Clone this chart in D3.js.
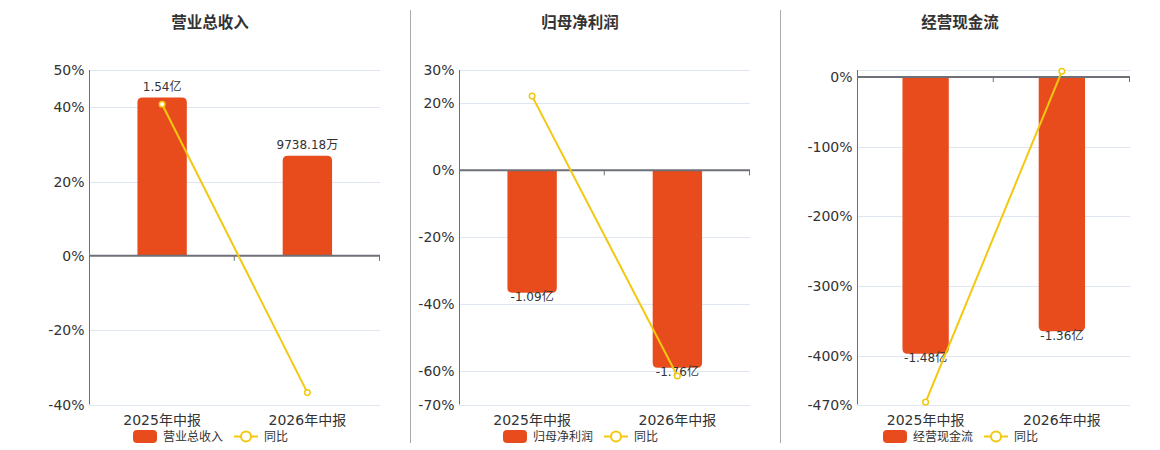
<!DOCTYPE html>
<html><head><meta charset="utf-8">
<script src="https://cdn.jsdelivr.net/npm/d3@7/dist/d3.min.js"></script>
<style>
html,body{margin:0;padding:0;background:#fff;}
svg{display:block;font-family:"DejaVu Sans","Noto Sans CJK SC",sans-serif;}
</style></head>
<body>
<svg id="chart" width="1160" height="450"></svg>
<script>
// ---- data ----
const categories = ["2025年中报", "2026年中报"];
const titles = ["营业总收入", "归母净利润", "经营现金流"];
const seriesNames = ["营业总收入", "归母净利润", "经营现金流"];
const yoyName = "同比";
// bar values in 亿
const revenueValues = [1.54, 0.973818];
const profitValues = [-1.09, -1.76];
const cashValues = [-1.48, -1.36];
const revenueLabels = ["1.54亿", "9738.18万"];
const profitLabels = ["-1.09亿", "-1.76亿"];
const cashLabels = ["-1.48亿", "-1.36亿"];
// yoy %
const revenueYoy = [40.8, -36.8];
const profitYoy = [22.2, -61.5];
const cashYoy = [-466.6, 8.1];
// axis ticks (%)
const revenueTicks = [-40, -20, 0, 20, 40, 50];
const profitTicks = [-70, -60, -40, -20, 0, 20, 30];
const cashTicks = [-470, -400, -300, -200, -100, 0];
// axis domains
const revenuePctDomain = [-40, 50];
const profitPctDomain = [-70, 30];
const cashPctDomain = [-470, 10];
const revenueBarDomain = [-1.447, 1.808];
const profitBarDomain = [-2.087, 0.894];
const cashBarDomain = [-1.752, 0.0373];

// ---- layout ----
const panels = [
  {title: titles[0], name: seriesNames[0], values: revenueValues, labels: revenueLabels, yoy: revenueYoy, ticks: revenueTicks, pct: revenuePctDomain, bar: revenueBarDomain,
   x0: 89.5, x1: 380, cx: 210},
  {title: titles[1], name: seriesNames[1], values: profitValues, labels: profitLabels, yoy: profitYoy, ticks: profitTicks, pct: profitPctDomain, bar: profitBarDomain,
   x0: 459.5, x1: 750, cx: 580},
  {title: titles[2], name: seriesNames[2], values: cashValues, labels: cashLabels, yoy: cashYoy, ticks: cashTicks, pct: cashPctDomain, bar: cashBarDomain,
   x0: 857.5, x1: 1130, cx: 960}
];
const plotTop = 70, plotBottom = 404.5;
const barColor = "#e84c1d", lineColor = "#f2c811", axisColor = "#6e7079", gridColor = "#e0e6f1", textColor = "#333";

const svg = d3.select("#chart");

// separators
[410.5, 780.5].forEach(x => {
  svg.append("line").attr("x1", x).attr("x2", x).attr("y1", 10).attr("y2", 443)
    .attr("stroke", "#aaa").attr("stroke-width", 1);
});

function barPath(x, w, y0, y1, r) {
  const h = Math.abs(y1 - y0);
  r = Math.min(r, h, w / 2);
  if (y1 < y0) {
    return `M${x},${y0}V${y1 + r}Q${x},${y1} ${x + r},${y1}H${x + w - r}Q${x + w},${y1} ${x + w},${y1 + r}V${y0}Z`;
  } else {
    return `M${x},${y0}V${y1 - r}Q${x},${y1} ${x + r},${y1}H${x + w - r}Q${x + w},${y1} ${x + w},${y1 - r}V${y0}Z`;
  }
}

panels.forEach(p => {
  const g = svg.append("g");
  const xs = d3.scaleBand().domain(categories).range([p.x0, p.x1]).padding(0);
  const yPct = d3.scaleLinear().domain(p.pct).range([plotBottom, plotTop]);
  const yBar = d3.scaleLinear().domain(p.bar).range([plotBottom, plotTop]);
  const zero = yPct(0);

  g.append("text").attr("x", p.cx).attr("y", 23).attr("text-anchor", "middle").attr("dominant-baseline", "central")
    .attr("font-size", 15.5).attr("font-weight", "bold").attr("fill", "#333").text(p.title);

  const gridVals = Array.from(new Set(p.ticks.concat(p.pct)));
  g.selectAll(".grid").data(gridVals.filter(v => v !== 0)).enter().append("line")
    .attr("x1", p.x0).attr("x2", p.x1).attr("y1", d => Math.round(yPct(d)) + 0.5).attr("y2", d => Math.round(yPct(d)) + 0.5)
    .attr("stroke", gridColor).attr("stroke-width", 1);

  g.append("line").attr("x1", p.x0).attr("x2", p.x0).attr("y1", plotTop).attr("y2", plotBottom)
    .attr("stroke", axisColor).attr("stroke-width", 1);

  g.selectAll(".yl").data(p.ticks).enter().append("text")
    .attr("x", p.x0 - 5).attr("y", d => yPct(d)).attr("text-anchor", "end").attr("dominant-baseline", "central")
    .attr("font-size", 14).attr("fill", textColor).text(d => d + "%");

  const bw = xs.bandwidth() * 0.34;
  g.selectAll(".bar").data(p.values).enter().append("path")
    .attr("d", (d, i) => barPath(xs(categories[i]) + xs.bandwidth() / 2 - bw / 2, bw, yBar(0), yBar(d), 5))
    .attr("fill", barColor);

  g.append("line").attr("x1", p.x0).attr("x2", p.x1).attr("y1", zero).attr("y2", zero)
    .attr("stroke", axisColor).attr("stroke-width", 2);
  const bounds = categories.map(c => xs(c)).concat([p.x1]).slice(1);
  g.selectAll(".xt").data(bounds).enter().append("line")
    .attr("x1", d => d - 0.5).attr("x2", d => d - 0.5).attr("y1", zero).attr("y2", zero + 5)
    .attr("stroke", axisColor).attr("stroke-width", 1);

  g.selectAll(".xl").data(categories).enter().append("text")
    .attr("x", d => xs(d) + xs.bandwidth() / 2).attr("y", 420).attr("text-anchor", "middle").attr("dominant-baseline", "central")
    .attr("font-size", 14).attr("fill", textColor).text(d => d);

  g.selectAll(".bl").data(p.values).enter().append("text")
    .attr("x", (d, i) => xs(categories[i]) + xs.bandwidth() / 2)
    .attr("y", d => d >= 0 ? yBar(d) - 10.5 : yBar(d) + 4.5)
    .attr("text-anchor", "middle").attr("dominant-baseline", "central")
    .attr("font-size", 12).attr("fill", textColor).text((d, i) => p.labels[i]);

  const line = d3.line().x((d, i) => xs(categories[i]) + xs.bandwidth() / 2).y(d => yPct(d));
  g.append("path").datum(p.yoy).attr("d", line).attr("fill", "none").attr("stroke", lineColor).attr("stroke-width", 2);
  g.selectAll(".pt").data(p.yoy).enter().append("circle")
    .attr("cx", (d, i) => xs(categories[i]) + xs.bandwidth() / 2).attr("cy", d => yPct(d)).attr("r", 2.8)
    .attr("fill", "#fff").attr("stroke", lineColor).attr("stroke-width", 1.5);

  const lx = p.cx - 77;
  const ly = 436.5;
  g.append("rect").attr("x", lx).attr("y", ly - 6.5).attr("width", 24).attr("height", 13).attr("rx", 4).attr("fill", barColor);
  g.append("text").attr("x", lx + 30).attr("y", ly).attr("dominant-baseline", "central").attr("font-size", 12).attr("fill", textColor).text(p.name);
  const l2 = lx + 101;
  g.append("line").attr("x1", l2).attr("x2", l2 + 24).attr("y1", ly).attr("y2", ly).attr("stroke", lineColor).attr("stroke-width", 2);
  g.append("circle").attr("cx", l2 + 12).attr("cy", ly).attr("r", 5).attr("fill", "#fff").attr("stroke", lineColor).attr("stroke-width", 2);
  g.append("text").attr("x", l2 + 30).attr("y", ly).attr("dominant-baseline", "central").attr("font-size", 12).attr("fill", textColor).text(yoyName);
});
</script>
</body></html>
